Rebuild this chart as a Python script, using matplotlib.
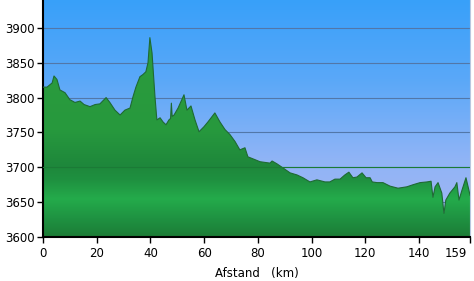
import numpy as np
import matplotlib
matplotlib.use("Agg")
import matplotlib.pyplot as plt
import matplotlib.transforms as mtrans
from matplotlib.colors import LinearSegmentedColormap

# elevation profile (km, m)
km = [0, 1.5, 3.4, 4.1, 5.2, 6.3, 8.2, 10.0, 11.9, 13.8, 15.3, 17.5, 19.4, 21.2,
      23.5, 24.9, 26.8, 28.7, 30.5, 32.4, 33.5, 34.6, 36.1, 37.2, 38.3, 39.1,
      39.8, 40.6, 41.7, 42.4, 43.6, 44.7, 45.8, 46.9, 47.5, 47.8, 48.1, 48.8,
      50.3, 52.5, 53.6, 55.1, 56.6, 58.1, 59.9, 61.4, 64.0, 65.9, 67.8, 69.6,
      71.5, 73.3, 75.2, 76.3, 78.9, 80.8, 84.5, 85.3, 87.1, 89.4, 92.0, 94.6,
      96.8, 99.4, 102.0, 105.0, 106.8, 108.7, 110.6, 112.4, 113.9, 115.4,
      116.9, 118.8, 120.3, 121.8, 122.6, 124.4, 126.6, 129.2, 132.2, 135.5,
      137.8, 140.4, 143.0, 144.5, 145.2, 146.0, 147.1, 148.5, 149.3, 150.0,
      151.5, 153.4, 154.1, 154.9, 156.0, 157.5, 158.6, 159.0]
elev = [3815, 3815, 3821, 3831, 3826, 3811, 3807, 3797, 3793, 3795, 3790, 3787,
        3790, 3791, 3800, 3793, 3782, 3775, 3782, 3785, 3801, 3815, 3830, 3833,
        3837, 3850, 3886, 3864, 3801, 3768, 3771, 3765, 3761, 3768, 3770, 3792,
        3773, 3775, 3785, 3804, 3782, 3788, 3768, 3751, 3758, 3765, 3778, 3765,
        3754, 3747, 3737, 3725, 3728, 3715, 3711, 3708, 3706, 3709, 3705, 3699,
        3692, 3689, 3685, 3679, 3682, 3679, 3679, 3683, 3683, 3689, 3693, 3685,
        3686, 3692, 3685, 3685, 3679, 3678, 3678, 3673, 3670, 3672, 3675, 3678,
        3679, 3680, 3657, 3672, 3678, 3663, 3634, 3653, 3663, 3672, 3678, 3653,
        3667, 3685, 3667, 3660]

xticks = [0, 20, 40, 60, 80, 100, 120, 140, 159]
yticks = [3600, 3650, 3700, 3750, 3800, 3850, 3900]
ymin, ymax = 3600, 3940

fig = plt.figure(figsize=(4.74, 2.81), dpi=100)
ax = fig.add_axes([43/474, 44/281, 427/474, 237/281])
ax.set_xlim(0, 159)
ax.set_ylim(ymin, ymax)

# sky gradient
sky = LinearSegmentedColormap.from_list("sky", ["#a6b6f2", "#8fb4f6", "#5aa8f8", "#38a0fa"])
grad = np.linspace(0, 1, 256).reshape(-1, 1)
ax.imshow(grad, cmap=sky, aspect="auto", extent=[0, 159, ymin, ymax],
          origin="lower", zorder=0)

for y in yticks[1:]:
    ax.axhline(y, color="#5277a8", lw=0.8, zorder=1)

# green terrain gradient, clipped to the profile
green = LinearSegmentedColormap.from_list(
    "green", [(0, "#1c7c36"), (0.08, "#1f9342"), (0.16, "#24ab4b"), (0.24, "#1f9140"),
              (0.30, "#1e873b"), (0.45, "#27993e"), (1.0, "#2e9e3c")])
im = ax.imshow(grad, cmap=green, aspect="auto", extent=[0, 159, ymin, ymax],
               origin="lower", zorder=2)
poly = ax.fill_between(km, elev, ymin, color="none", lw=0)
im.set_clip_path(poly.get_paths()[0], transform=ax.transData)
ax.plot(km, elev, color="#1f6a33", lw=0.8, zorder=3)
ax.axhline(3700, color="#1b7a36", lw=0.8, zorder=3)

ax.set_xticks(xticks)
ax.set_yticks(yticks)
ax.tick_params(direction="out", length=4, width=1, labelsize=8.5, colors="black", pad=2)
ax.tick_params(axis="x", pad=3)
# last x label sits left of its tick so it stays inside the figure
lab = ax.get_xticklabels()[-1]
lab.set_horizontalalignment("right")
lab.set_transform(lab.get_transform() + mtrans.ScaledTranslation(-2/72, 0, fig.dpi_scale_trans))

# partly hidden label above the top
ax.annotate("3950", xy=(0, 3950), xycoords=("axes fraction", "data"),
            xytext=(-6, 0), textcoords="offset points", ha="right", va="center",
            fontsize=8.5, annotation_clip=False)

ax.spines["top"].set_visible(False)
ax.spines["right"].set_color("#b8c8e0")
ax.spines["left"].set_linewidth(1.5)
ax.spines["bottom"].set_linewidth(1.5)
ax.set_xlabel("Afstand   (km)", fontsize=8.5, labelpad=5)

fig.savefig("out.png", dpi=100)
